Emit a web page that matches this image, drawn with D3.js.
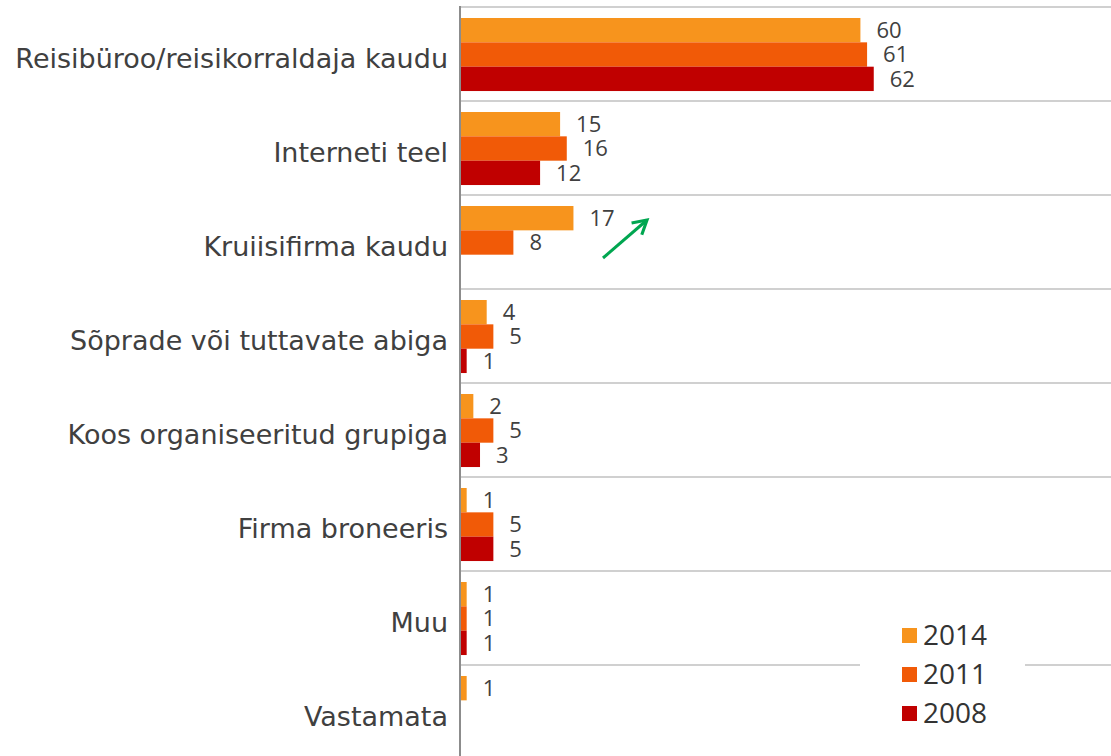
<!DOCTYPE html>
<html>
<head>
<meta charset="utf-8">
<script src="https://cdn.jsdelivr.net/npm/d3@7"></script>
<style>
  body { margin: 0; background: #fff; }
  svg { display: block; }
</style>
</head>
<body>
<svg width="1111" height="756"></svg>
<script>
'use strict';

const categories = [
  'Reisibüroo/reisikorraldaja kaudu',
  'Interneti teel',
  'Kruiisifirma kaudu',
  'Sõprade või tuttavate abiga',
  'Koos organiseeritud grupiga',
  'Firma broneeris',
  'Muu',
  'Vastamata'
];
const years = ['2014', '2011', '2008'];
const values2014 = [60, 15, 17, 4, 2, 1, 1, 1];
const values2011 = [61, 16, 8, 5, 5, 5, 1, null];
const values2008 = [62, 12, null, 1, 3, 5, 1, null];
const colours = ['#f7941d', '#f15a07', '#c00000'];

const series = [values2014, values2011, values2008];

const svg = d3.select('svg');
const width = 1111;
const marginLeft = 460;
const marginTop = 7;
const rowStep = 94;

const x = d3.scaleLinear()
    .domain([0, 98])
    .range([marginLeft, width + 3]);

const y = d3.scaleBand()
    .domain(categories)
    .range([marginTop, marginTop + rowStep * categories.length]);

const yInner = d3.scaleBand()
    .domain(years)
    .range([y.bandwidth() * 0.117, y.bandwidth() * 0.894]);

// grid lines at the row boundaries
svg.append('g')
  .selectAll('line')
  .data(categories)
  .join('line')
    .attr('x1', marginLeft)
    .attr('x2', width)
    .attr('y1', d => y(d))
    .attr('y2', d => y(d))
    .attr('stroke', '#d0d0d0')
    .attr('stroke-width', 2);

// bars
const groups = svg.append('g')
  .selectAll('g')
  .data(categories)
  .join('g')
    .attr('transform', d => `translate(0,${y(d)})`);

groups.each(function(cat, i) {
  const g = d3.select(this);
  const rows = years.map((yr, k) => ({year: yr, value: series[k][i], colour: colours[k]}))
    .filter(d => d.value !== null);

  g.selectAll('rect')
    .data(rows)
    .join('rect')
      .attr('x', x(0))
      .attr('y', d => yInner(d.year))
      .attr('width', d => x(d.value) - x(0))
      .attr('height', yInner.bandwidth())
      .attr('fill', d => d.colour);

  g.selectAll('text')
    .data(rows)
    .join('text')
      .attr('x', d => x(d.value) + 16)
      .attr('y', d => yInner(d.year) + yInner.bandwidth() / 2)
      .attr('dy', '0.36em')
      .attr('font-family', '"Open Sans", sans-serif')
      .attr('font-size', 22)
      .attr('fill', '#404040')
      .text(d => d.value);
});

// category labels
svg.append('g')
  .selectAll('text')
  .data(categories)
  .join('text')
    .attr('x', marginLeft - 12)
    .attr('y', d => y(d) + y.bandwidth() / 2 + 4)
    .attr('dy', '0.36em')
    .attr('text-anchor', 'end')
    .attr('font-family', '"DejaVu Sans", Verdana, sans-serif')
    .attr('font-size', 27)
    .attr('fill', '#404040')
    .text(d => d);

// value axis line
svg.append('line')
    .attr('x1', marginLeft)
    .attr('x2', marginLeft)
    .attr('y1', marginTop - 1)
    .attr('y2', 756)
    .attr('stroke', '#8c8c8c')
    .attr('stroke-width', 2);

// green trend arrow
svg.append('defs').append('marker')
    .attr('id', 'arrow')
    .attr('viewBox', '0 0 10 10')
    .attr('refX', 8)
    .attr('refY', 5)
    .attr('markerWidth', 6.5)
    .attr('markerHeight', 6.5)
    .attr('orient', 'auto')
  .append('path')
    .attr('d', 'M1,1 L8,5 L1,9')
    .attr('fill', 'none')
    .attr('stroke', '#00a650')
    .attr('stroke-width', 1.6);

svg.append('line')
    .attr('x1', 603)
    .attr('y1', 258)
    .attr('x2', 647)
    .attr('y2', 220)
    .attr('stroke', '#00a650')
    .attr('stroke-width', 3)
    .attr('marker-end', 'url(#arrow)');

// legend
const legend = svg.append('g').attr('transform', 'translate(860,615)');
legend.append('rect')
    .attr('width', 165)
    .attr('height', 130)
    .attr('fill', '#fff');

const item = legend.selectAll('g.item')
  .data(years)
  .join('g')
    .attr('class', 'item')
    .attr('transform', (d, i) => `translate(42,${20 + i * 39})`);

item.append('rect')
    .attr('y', -7)
    .attr('width', 15)
    .attr('height', 15)
    .attr('fill', (d, i) => colours[i]);

item.append('text')
    .attr('x', 21)
    .attr('dy', '0.36em')
    .attr('font-family', '"Open Sans", sans-serif')
    .attr('font-size', 28)
    .attr('fill', '#333')
    .text(d => d);
</script>
</body>
</html>
